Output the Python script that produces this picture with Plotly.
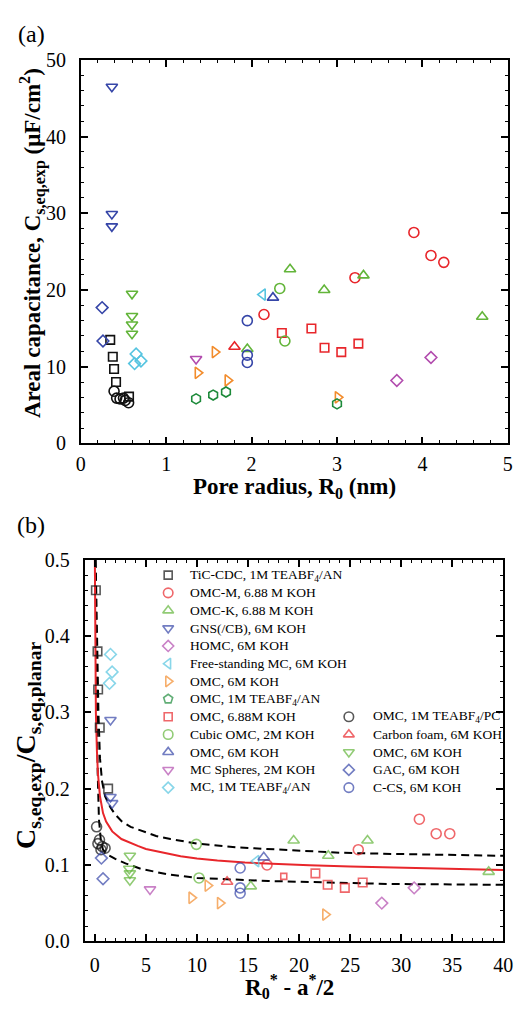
import plotly.graph_objects as go

W, H = 523, 1009
SERIF = "Liberation Serif"

# ---------------- data ----------------
# (a) pore radius R0 (nm) vs areal capacitance (uF/cm2)
# (b) R0* - a*/2 vs normalised capacitance
tic_r = [0.345, 0.375, 0.39, 0.413, 0.565]
tic_c = [13.5, 11.3, 9.7, 8.0, 6.1]
tic_x = [0.1, 0.26, 0.32, 0.48, 1.3]
tic_y = [0.46, 0.38, 0.33, 0.28, 0.20]

omcm_r = [2.145, 3.21, 3.90, 4.10, 4.25]
omcm_c = [16.8, 21.6, 27.5, 24.5, 23.6]
omcm_x = [16.86, 25.8, 31.78, 33.43, 34.76]
omcm_y = [0.100, 0.120, 0.160, 0.141, 0.141]

omck_r = [1.95, 2.45, 2.85, 3.31, 4.70]
omck_c = [12.3, 22.7, 20.0, 21.9, 16.5]
omck_x = [15.27, 19.47, 22.86, 26.7, 38.57]
omck_y = [0.072, 0.132, 0.112, 0.132, 0.091]

gns_r = [0.364, 0.364, 0.364]
gns_c = [46.5, 29.9, 28.3]
gns_x = [1.53, 1.53, 1.69]
gns_y = [0.290, 0.189, 0.181]

homc_r = [3.70, 4.10]
homc_c = [8.2, 11.2]
homc_x = [28.1, 31.27]
homc_y = [0.050, 0.070]

fsmc_r = [2.13]
fsmc_c = [19.4]
fsmc_x = [15.8]
fsmc_y = [0.105]

omc6o_r = [1.37, 1.57, 1.72, 3.01]
omc6o_c = [9.2, 11.9, 8.2, 6.0]
omc6o_x = [9.47, 11.05, 12.26, 22.57]
omc6o_y = [0.057, 0.073, 0.050, 0.035]

omcan_r = [1.35, 1.55, 1.70, 3.00]
omcan_c = [5.8, 6.3, 6.7, 5.15]
omcan_x = [None]
omcan_y = [None]

omc688_r = [2.354, 2.70, 2.854, 3.05, 3.25]
omc688_c = [14.4, 14.97, 12.46, 11.9, 13.0]
omc688_x = [18.5, 21.6, 22.8, 24.48, 26.23]
omc688_y = [0.085, 0.089, 0.074, 0.070, 0.077]

cubic_r = [2.33, 2.39]
cubic_c = [20.2, 13.35]
cubic_x = [9.94, 10.2]
cubic_y = [0.127, 0.083]

omc6b_r = [2.25]
omc6b_c = [19.0]
omc6b_x = [16.54]
omc6b_y = [0.110]

mcs_r = [1.35]
mcs_c = [11.0]
mcs_x = [5.4]
mcs_y = [0.068]

mcan_r = [0.648, 0.705, 0.63]
mcan_c = [11.65, 10.75, 10.4]
mcan_x = [1.53, 1.69, 1.43]
mcan_y = [0.376, 0.353, 0.338]

omcpc_r = [0.39, 0.42, 0.46, 0.50, 0.52, 0.56]
omcpc_c = [6.8, 5.9, 5.8, 5.9, 5.6, 5.3]
omcpc_x = [0.17, 0.45, 0.30, 0.73, 1.0, 0.6]
omcpc_y = [0.150, 0.133, 0.128, 0.124, 0.122, 0.120]

foam_r = [1.80]
foam_c = [12.6]
foam_x = [12.95]
foam_y = [0.078]

omc6g_r = [0.60, 0.60, 0.60, 0.60]
omc6g_c = [19.5, 16.6, 15.5, 14.3]
omc6g_x = [3.43, 3.37, 3.43, 3.43]
omc6g_y = [0.112, 0.095, 0.089, 0.080]

gac_r = [0.25, 0.26]
gac_c = [17.7, 13.35]
gac_x = [0.64, 0.80]
gac_y = [0.109, 0.082]

ccs_r = [1.95, 1.95, 1.95]
ccs_c = [16.0, 11.5, 10.55]
ccs_x = [14.23, 14.23, 14.23]
ccs_y = [0.096, 0.070, 0.063]

# model curves in panel (b)
fit_x = [0.0, 0.05, 0.1, 0.2, 0.3, 0.5, 0.8, 1.1, 1.7, 2.6, 3.4, 4.2, 5.0, 6.0,
         7.2, 8.4, 10.0, 12.0, 14.7, 17.5, 21.0, 25.0, 29.0, 35.0, 40.0]
fit_y = [0.50, 0.38, 0.30, 0.25, 0.22, 0.19, 0.168, 0.157, 0.144, 0.134, 0.129,
         0.125, 0.121, 0.118, 0.1145, 0.1115, 0.1085, 0.1058, 0.1032, 0.1013,
         0.0995, 0.098, 0.0966, 0.0948, 0.0935]
upper_x = [0.08, 0.2, 0.35, 0.5, 0.7, 1.0, 1.5, 2.0, 2.64, 3.5, 4.86, 6.0, 7.4,
           10.0, 14.0, 18.0, 24.0, 29.0, 35.0, 40.0]
upper_y = [0.50, 0.40, 0.30, 0.24, 0.21, 0.19, 0.176, 0.166, 0.157, 0.150, 0.143,
           0.138, 0.134, 0.128, 0.123, 0.120, 0.116, 0.1145, 0.113, 0.112]
lower_x = [0.05, 0.12, 0.2, 0.28, 0.4, 0.6, 0.8, 1.2, 2.0, 3.0, 4.5, 7.0, 10.0,
           13.0, 17.0, 23.0, 29.0, 35.0, 40.0]
lower_y = [0.50, 0.40, 0.30, 0.22, 0.16, 0.13, 0.12, 0.114, 0.108, 0.102, 0.095,
           0.088, 0.083, 0.081, 0.079, 0.077, 0.075, 0.0745, 0.074]

# ---------------- styles ----------------
BLACK = "#111111"
RED = "#e8262b"
GREEN = "#63b53a"
BLUE = "#3646a8"
MAGENTA = "#b24cae"
CYAN = "#55c4e0"
ORANGE = "#f28c2c"
DKGREEN = "#1d8a3a"

# name, colour, symbol (a), symbol (b), size, data (a), data (b), key column
series = [
    ("TiC-CDC, 1M TEABF<sub>4</sub>/AN", BLACK, "square-open", "square-open", 8.5,
     (tic_r, tic_c), (tic_x, tic_y), 1),
    ("OMC-M, 6.88 M KOH", RED, "circle-open", "circle-open", 10,
     (omcm_r, omcm_c), (omcm_x, omcm_y), 1),
    ("OMC-K, 6.88 M KOH", GREEN, "triangle-up-open", "triangle-up-open", 10,
     (omck_r, omck_c), (omck_x, omck_y), 1),
    ("GNS(/CB), 6M KOH", BLUE, "triangle-down-open", "triangle-down-open", 10,
     (gns_r, gns_c), (gns_x, gns_y), 1),
    ("HOMC, 6M KOH", MAGENTA, "diamond-open", "diamond-open", 9,
     (homc_r, homc_c), (homc_x, homc_y), 1),
    ("Free-standing MC, 6M KOH", CYAN, "triangle-left-open", "triangle-left-open", 10,
     (fsmc_r, fsmc_c), (fsmc_x, fsmc_y), 1),
    ("OMC, 6M KOH", ORANGE, "triangle-right-open", "triangle-right-open", 10,
     (omc6o_r, omc6o_c), (omc6o_x, omc6o_y), 1),
    ("OMC, 1M TEABF<sub>4</sub>/AN", DKGREEN, "hexagon-open", "pentagon-open", 10,
     (omcan_r, omcan_c), (omcan_x, omcan_y), 1),
    ("OMC, 6.88M KOH", RED, "square-open", "square-open", 8.5,
     (omc688_r, omc688_c), (omc688_x, omc688_y), 1),
    ("Cubic OMC, 2M KOH", GREEN, "circle-open", "circle-open", 10,
     (cubic_r, cubic_c), (cubic_x, cubic_y), 1),
    ("OMC, 6M KOH", BLUE, "triangle-up-open", "triangle-up-open", 10,
     (omc6b_r, omc6b_c), (omc6b_x, omc6b_y), 1),
    ("MC Spheres, 2M KOH", MAGENTA, "triangle-down-open", "triangle-down-open", 10,
     (mcs_r, mcs_c), (mcs_x, mcs_y), 1),
    ("MC, 1M TEABF<sub>4</sub>/AN", CYAN, "diamond-open", "diamond-open", 9,
     (mcan_r, mcan_c), (mcan_x, mcan_y), 1),
    ("OMC, 1M TEABF<sub>4</sub>/PC", BLACK, "circle-open", "circle-open", 10,
     (omcpc_r, omcpc_c), (omcpc_x, omcpc_y), 2),
    ("Carbon foam, 6M KOH", RED, "triangle-up-open", "triangle-up-open", 10,
     (foam_r, foam_c), (foam_x, foam_y), 2),
    ("OMC, 6M KOH", GREEN, "triangle-down-open", "triangle-down-open", 10,
     (omc6g_r, omc6g_c), (omc6g_x, omc6g_y), 2),
    ("GAC, 6M KOH", BLUE, "diamond-open", "diamond-open", 9,
     (gac_r, gac_c), (gac_x, gac_y), 2),
    ("C-CS, 6M KOH", BLUE, "circle-open", "circle-open", 10,
     (ccs_r, ccs_c), (ccs_x, ccs_y), 2),
]

fig = go.Figure()

# model curves under the markers
fig.add_trace(go.Scatter(x=upper_x, y=upper_y, xaxis="x2", yaxis="y2", mode="lines",
                         line=dict(color="black", width=2, dash="8px,5px"),
                         showlegend=False, hoverinfo="skip"))
fig.add_trace(go.Scatter(x=lower_x, y=lower_y, xaxis="x2", yaxis="y2", mode="lines",
                         line=dict(color="black", width=2, dash="8px,5px"),
                         showlegend=False, hoverinfo="skip"))
fig.add_trace(go.Scatter(x=fit_x, y=fit_y, xaxis="x2", yaxis="y2", mode="lines",
                         line=dict(color=RED, width=2),
                         showlegend=False, hoverinfo="skip"))

for name, col, sym_a, sym_b, size, (ra, ca), (xb, yb), _ in series:
    fig.add_trace(go.Scatter(
        x=ra, y=ca, xaxis="x", yaxis="y", mode="markers", name=name, showlegend=False,
        marker=dict(symbol=sym_a, size=size, color=col, line=dict(color=col, width=1.6))))
    sizes_b = [size] * len(xb)
    if name == "OMC, 6.88M KOH":
        sizes_b[0] = 6
    fig.add_trace(go.Scatter(
        x=xb, y=yb, xaxis="x2", yaxis="y2", mode="markers", name=name, showlegend=False,
        marker=dict(symbol=sym_b, size=sizes_b, color=col, line=dict(color=col, width=1.6))))

# two-column key drawn in pixel space of panel (b)
ROW0, DROW = 576.7, 18.1
key1 = dict(sym_x=168, txt_x=188, row0=0)
key2 = dict(sym_x=354, txt_x=376.5, row0=8)
annotations = []
kx, ky, ksym, kcol, ksize = [], [], [], [], []
count = {1: 0, 2: 0}
for name, col, sym_a, sym_b, size, _, _, colno in series:
    k = key1 if colno == 1 else key2
    row = k["row0"] + count[colno]
    count[colno] += 1
    py = ROW0 + DROW * row
    kx.append(k["sym_x"]); ky.append(py); ksym.append(sym_b); kcol.append(col)
    ksize.append(size - 0.5)
    annotations.append(dict(
        x=k["txt_x"] / W, y=1 - py / H, xref="paper", yref="paper", text=name,
        showarrow=False, xanchor="left", yanchor="middle",
        font=dict(family=SERIF, size=13.5, color="black")))
fig.add_trace(go.Scatter(
    x=kx, y=ky, xaxis="x3", yaxis="y3", mode="markers", showlegend=False, hoverinfo="skip",
    marker=dict(symbol=ksym, size=ksize, color=kcol, line=dict(color=kcol, width=1.6))))


def title(text, px, py, size, angle=0):
    return dict(x=px / W, y=1 - py / H, xref="paper", yref="paper", text=text,
                showarrow=False, xanchor="center", yanchor="middle", textangle=angle,
                font=dict(family=SERIF, size=size, color="black"))


annotations += [
    title("(a)", 27, 24, 24),
    title("(b)", 27, 525, 24),
    title("<b>Pore radius, R<sub>0</sub> (nm)</b>", 298, 488, 23),
    title("<b>Areal capacitance, C<sub>s,eq,exp</sub> (μF/cm<sup>2</sup>)</b>", 28, 237, 23, -90),
    title("<b>R<sub>0</sub><sup>*</sup> - a<sup>*</sup>/2</b>", 293, 997, 23),
    title("<b>C<sub>s,eq,exp</sub>/C<sub>s,eq,planar</sub></b>", 23, 750, 28, -90),
]

tickfont = dict(family=SERIF, size=20, color="black")


def frame(rng, dtick, mdtick, dom, anchor, standoff, fmt=None):
    ax = dict(range=rng, domain=dom, anchor=anchor, dtick=dtick, tick0=0,
              ticks="inside", ticklen=7, tickwidth=1.5, tickcolor="black",
              minor=dict(ticks="inside", dtick=mdtick, tick0=0, ticklen=3.5,
                         tickwidth=1.2, tickcolor="black", showgrid=False),
              showline=True, linewidth=1.6, linecolor="black", mirror="allticks",
              showgrid=False, zeroline=False, tickfont=tickfont,
              ticklabelstandoff=standoff, fixedrange=True)
    if fmt:
        ax["tickformat"] = fmt
    return ax


def cross(rng, dtick, dom, anchor, over, side):
    return dict(range=rng, domain=dom, anchor=anchor, overlaying=over, side=side,
                dtick=dtick, tick0=0, ticks="outside", ticklen=6, tickwidth=1.5,
                tickcolor="black", showticklabels=False, showline=False,
                showgrid=False, zeroline=False, fixedrange=True)


xa_dom = [78 / W, 517.7 / W]
ya_dom = [1 - 442 / H, 1 - 50 / H]
xb_dom = [82 / W, 513 / W]
yb_dom = [1 - 951 / H, 1 - 561 / H]

fig.update_layout(
    width=W, height=H, margin=dict(l=0, r=0, t=0, b=0),
    paper_bgcolor="white", plot_bgcolor="rgba(0,0,0,0)", showlegend=False,
    xaxis=frame([0, 5], 1, 0.2, xa_dom, "y", 2),
    yaxis=frame([0, 50], 10, 2, ya_dom, "x", 9),
    xaxis2=frame([-1, 40], 5, 1, xb_dom, "y2", 5),
    yaxis2=frame([0, 0.5], 0.1, 0.02, yb_dom, "x2", 9, ".1f"),
    xaxis3=dict(domain=[0, 1], range=[0, W], anchor="y3", visible=False, fixedrange=True),
    yaxis3=dict(domain=[0, 1], range=[H, 0], anchor="x3", visible=False, fixedrange=True),
    yaxis4=cross([0, 50], 10, ya_dom, "x", "y", "left"),
    yaxis5=cross([0, 0.5], 0.1, yb_dom, "x2", "y2", "left"),
    annotations=annotations,
)

fig.write_html("out.html")
